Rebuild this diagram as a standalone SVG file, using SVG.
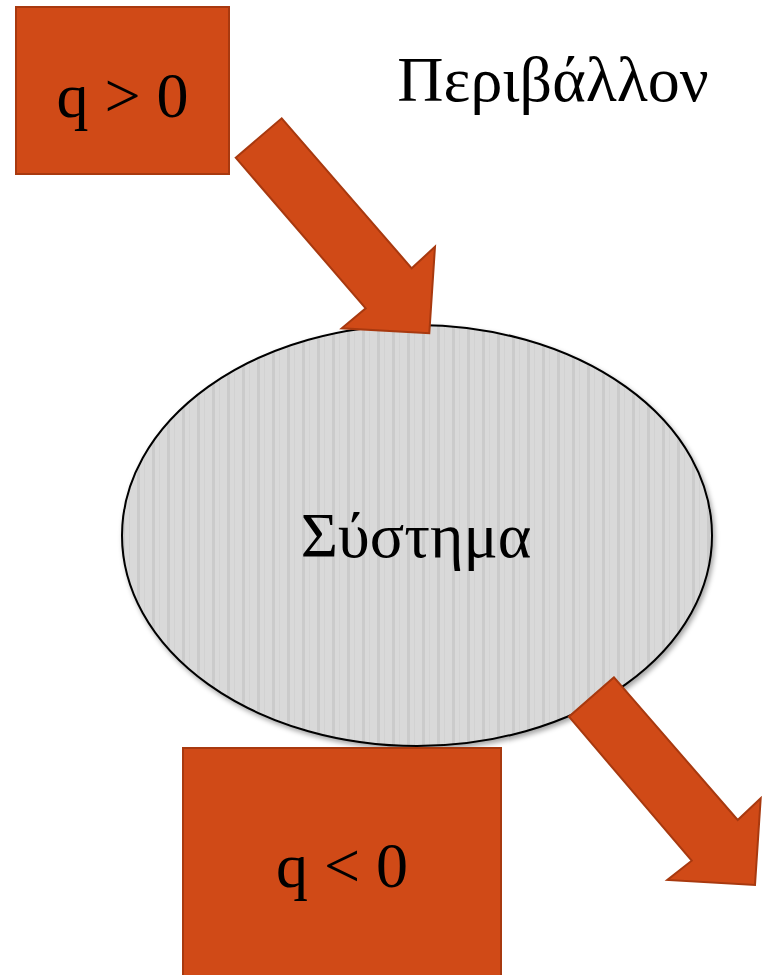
<svg xmlns="http://www.w3.org/2000/svg" width="763" height="975" viewBox="0 0 763 975">
<style>
.box{fill:#D04A17;stroke:#A8390F;stroke-width:2}
.arrow{fill:#D04A17;stroke:#A8390F;stroke-width:2;stroke-linejoin:miter}
.lbl{font-family:"Liberation Serif","Times New Roman",serif;font-size:64px;fill:#000}
</style>
<defs>
<pattern id="stripes" patternUnits="userSpaceOnUse" x="0" y="0" width="15" height="20">
<rect width="15" height="20" fill="#D9D9D9"/>
<rect x="2" width="3" height="20" fill="#CBCBCB"/>
<rect x="9" width="1" height="20" fill="#D2D2D2"/>
</pattern>
<filter id="shadow" x="-10%" y="-10%" width="120%" height="125%">
<feDropShadow dx="2" dy="3" stdDeviation="2.5" flood-color="#000" flood-opacity="0.35"/>
</filter>
</defs>
<g id="system">
<ellipse cx="417" cy="535.5" rx="295" ry="210.5" fill="url(#stripes)" stroke="#000" stroke-width="2" filter="url(#shadow)"/>
<text class="lbl" x="416" y="557" text-anchor="middle">Σύστημα</text>
</g>
<g id="environment">
<text class="lbl" x="553" y="101" text-anchor="middle">Περιβάλλον</text>
</g>
<g id="connectors">
<polygon id="arrow-in" class="arrow" points="235.7,157.7 281.7,118.3 411.7,268.3 435,246.7 429.3,333.3 341.7,328.3 365.7,308.3"/>
<polygon id="arrow-out" class="arrow" points="614,677.3 569,716.7 691.7,860.7 667.3,880 755,885 760.7,798.3 737.7,820"/>
</g>
<g id="q-positive">
<rect class="box" x="16" y="7" width="213" height="167"/>
<text class="lbl" x="122.5" y="117" text-anchor="middle">q &gt; 0</text>
</g>
<g id="q-negative">
<rect class="box" x="183" y="748" width="318" height="240"/>
<text class="lbl" x="342" y="887" text-anchor="middle">q &lt; 0</text>
</g>
</svg>
